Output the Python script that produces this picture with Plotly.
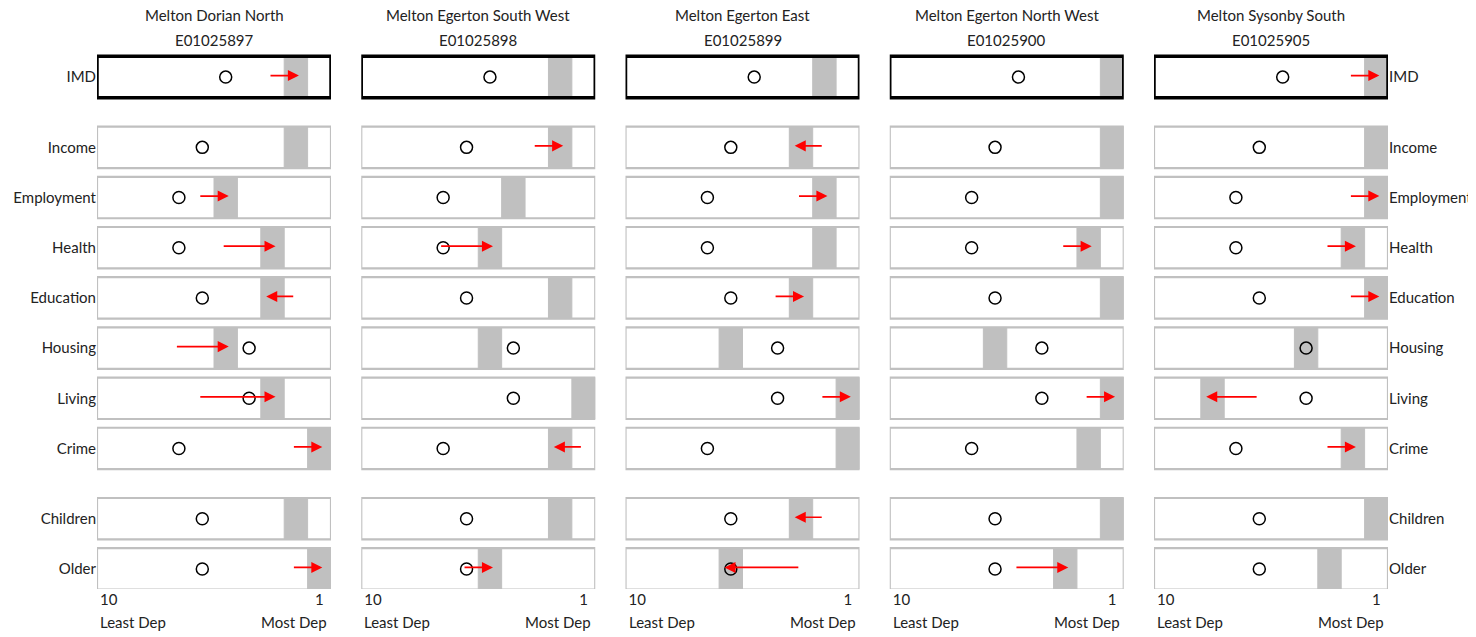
import plotly.graph_objects as go

# ---- data -------------------------------------------------------------
rows = ["IMD", "Income", "Employment", "Health", "Education",
        "Housing", "Living", "Crime", "Children", "Older"]

areas = ["Melton Dorian North", "Melton Egerton South West", "Melton Egerton East",
         "Melton Egerton North West", "Melton Sysonby South"]
codes = ["E01025897", "E01025898", "E01025899", "E01025900", "E01025905"]

# district (Melton) decile shown as the open circle
district_decile = [5, 6, 7, 7, 6, 4, 4, 7, 6, 6]

# current decile of each LSOA (grey band)
dorian_north = [2, 2, 5, 3, 3, 5, 3, 1, 2, 1]
egerton_sw = [2, 2, 4, 5, 2, 5, 1, 2, 2, 5]
egerton_east = [2, 3, 2, 2, 3, 6, 1, 1, 3, 6]
egerton_nw = [1, 1, 1, 2, 1, 6, 1, 2, 1, 3]
sysonby_south = [1, 1, 1, 2, 1, 4, 8, 2, 1, 3]

# previous decile (start of red arrow), None = no change
dorian_north_prev = [3, None, 6, 5, 2, 7, 6, 2, None, 2]
egerton_sw_prev = [None, 3, None, 7, None, None, None, 1, None, 6]
egerton_east_prev = [None, 2, 3, None, 4, None, 2, None, 2, 3]
egerton_nw_prev = [None, None, None, 3, None, None, 2, None, None, 5]
sysonby_south_prev = [2, None, 2, 3, 2, None, 6, 3, None, None]

current = [dorian_north, egerton_sw, egerton_east, egerton_nw, sysonby_south]
previous = [dorian_north_prev, egerton_sw_prev, egerton_east_prev,
            egerton_nw_prev, sysonby_south_prev]

# ---- layout helpers ---------------------------------------------------
# the page body has an 8px margin, so the figure is 8px smaller and
# every target pixel position is shifted by 8
OFF = 8
W, H = 1476 - OFF, 637 - OFF
GREY = "#c0c0c0"
TXT = "#222222"
FONT = "Lato"
PITCH = 50.2
HALF = 0.413

# rows spaced 1 apart, extra gap after IMD and after Crime
ypos = []
y = 0.0
for r, name in enumerate(rows):
    ypos.append(y)
    y += 1.4 if name in ("IMD", "Crime") else 1.0

y_lo, y_hi = -0.5, 10.2
top = 77 - OFF - 0.5 * PITCH
plot_h = (y_hi - y_lo) * PITCH
bottom = H - top - plot_h


def px(pix):
    return (pix - OFF) / W


def py(pix):
    # pixel row of the target page -> paper y
    return 1 - (pix - OFF - top) / plot_h


fig = go.Figure()

for i, area in enumerate(areas):
    xa = "x" if i == 0 else f"x{i+1}"
    left = 97 + i * 264.25
    fig.update_layout(**{("xaxis" if i == 0 else f"xaxis{i+1}"): dict(
        domain=[px(left), px(left + 234)], range=[10.5, 0.5], anchor="y",
        tickvals=[10, 1], ticktext=["10", "1"], ticks="", showgrid=False,
        zeroline=False, showline=False, fixedrange=True, automargin=False,
        tickfont=dict(size=15, color=TXT, family=FONT))})

    for r, name in enumerate(rows):
        yc = ypos[r]
        d = current[i][r]
        fig.add_shape(type="rect", xref=xa, yref="y", x0=d + 0.5, x1=d - 0.5,
                      y0=yc - HALF, y1=yc + HALF, fillcolor=GREY,
                      line=dict(color=GREY, width=1), layer="below")
        is_imd = name == "IMD"
        fig.add_shape(type="rect", xref=xa, yref="y", x0=10.5, x1=0.5,
                      y0=yc - HALF, y1=yc + HALF, fillcolor="rgba(0,0,0,0)",
                      line=dict(color="black" if is_imd else GREY,
                                width=3.5 if is_imd else 2.2), layer="below")

        p = previous[i][r]
        if p is not None:
            s = 1 if p > d else -1
            tail = p + 0.05 * s + 0.1
            tip = d - 0.2 * s + 0.07
            fig.add_annotation(x=tip, y=yc - 0.03, ax=tail, ay=yc - 0.03,
                               xref=xa, yref="y", axref=xa, ayref="y",
                               text="", showarrow=True, arrowhead=2,
                               arrowsize=1.3, arrowwidth=1.7, arrowcolor="#ff0000",
                               standoff=0, startstandoff=0)

    fig.add_trace(go.Scatter(
        x=district_decile, y=ypos, xaxis=xa, yaxis="y", mode="markers",
        marker=dict(symbol="circle-open", size=12, color="black",
                    line=dict(width=1.5, color="black")),
        hoverinfo="skip", showlegend=False))

    font = dict(size=15, color=TXT, family=FONT)
    cx = px(left + 117)
    fig.add_annotation(x=cx, y=py(15), xref="paper", yref="paper", text=area,
                       showarrow=False, xanchor="center", yanchor="middle", font=font)
    fig.add_annotation(x=cx, y=py(40), xref="paper", yref="paper", text=codes[i],
                       showarrow=False, xanchor="center", yanchor="middle", font=font)
    fig.add_annotation(x=px(left + 1), y=py(622), xref="paper", yref="paper",
                       text="Least Dep", showarrow=False, xanchor="left",
                       yanchor="middle", font=font)
    fig.add_annotation(x=px(left + 232), y=py(622), xref="paper", yref="paper",
                       text="Most Dep", showarrow=False, xanchor="right",
                       yanchor="middle", font=font)

# invisible trace so the right-hand label axis is drawn
fig.add_trace(go.Scatter(x=[5], y=[0], xaxis="x5", yaxis="y2", mode="markers",
                         marker=dict(opacity=0), hoverinfo="skip", showlegend=False))

yax = dict(range=[y_hi, y_lo], tickvals=ypos, ticktext=rows, ticks="",
           showgrid=False, zeroline=False, showline=False, fixedrange=True,
           automargin=False, tickfont=dict(size=15, color=TXT, family=FONT))
fig.update_layout(
    width=W, height=H,
    margin=dict(l=0, r=0, t=top, b=bottom, autoexpand=False),
    plot_bgcolor="white", paper_bgcolor="white",
    font=dict(family=FONT, color=TXT),
    yaxis=dict(anchor="x", **yax),
    yaxis2=dict(anchor="x5", overlaying="y", side="right", **yax),
    showlegend=False,
)

fig.write_html("out.html")
